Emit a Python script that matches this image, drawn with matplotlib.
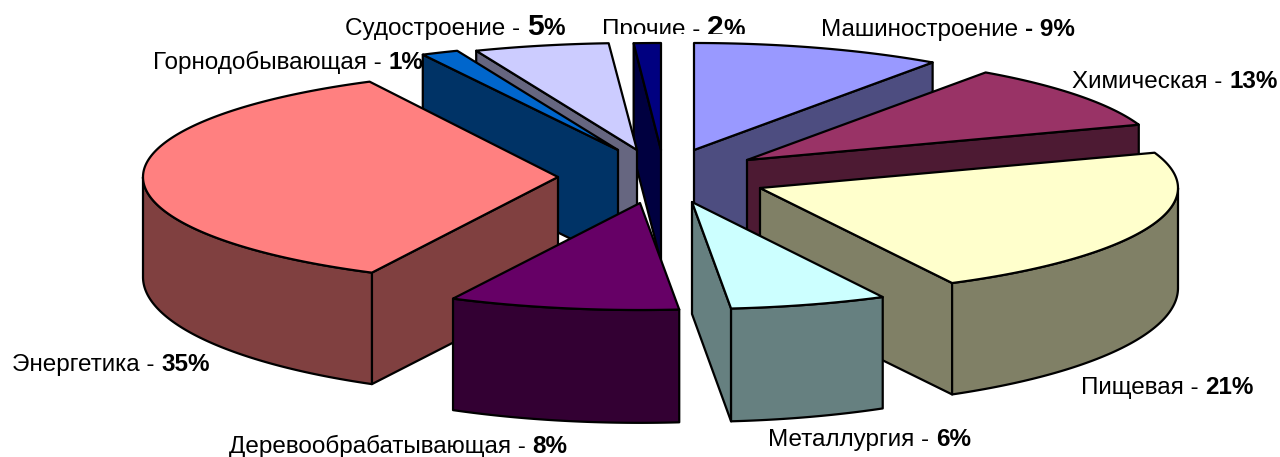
#!/usr/bin/env python3
# -*- coding: utf-8 -*-

import numpy as np

import matplotlib
matplotlib.use("Agg", force=True)
import matplotlib.pyplot as plt
from matplotlib.patches import Polygon, Rectangle
from matplotlib.colors import to_rgb

plt.rcParams["font.family"] = ["Liberation Sans", "DejaVu Sans"]

# Slices clockwise from 12 o'clock
names = ["Машиностроение", "Химическая", "Пищевая", "Металлургия", "Деревообрабатывающая",
         "Энергетика", "Горнодобывающая", "Судостроение", "Прочие"]
# shares as printed on the labels
labelled = [9, 13, 21, 6, 8, 35, 1, 5, 2]
# shares as actually drawn (read from the slice corners)
shares = [9.75, 9.9, 22.75, 6.1, 8.9, 35.1, 1.4, 5.05, 1.05]
colors = ["#9999FF", "#993366", "#FFFFCC", "#CCFFFF", "#660066",
          "#FF8080", "#0066CC", "#CCCCFF", "#000080"]

# exploded apex of each slice and its horizontal radius, pixels
apex_x = [694, 747, 760, 692, 640, 558, 618, 637, 661]
apex_y = [150, 160, 188, 202, 203, 177, 150, 150, 150]
radius_x = [415, 415, 418, 415, 417, 415, 430, 430, 415]

# left edge and baseline of each label, size of the bold number
label_x = [821, 1072, 1081, 768, 229, 12, 153, 345, 602]
label_y = [36, 88, 394, 446, 453, 371, 69, 35, 36]
big_digit = [None, None, None, None, None, None, None, 30, 30]

RY = 107
PX = 0.72  # px to pt at dpi 100
FS = 24.2 * PX


def side_color(c):
    return tuple(v * 0.5 for v in to_rgb(c))


def arc(i, t0, t1):
    t = np.radians(np.linspace(t0, t1, max(int(abs(t1 - t0)) * 2, 2)))
    x = apex_x[i] + radius_x[i] * np.sin(t)
    y = apex_y[i] - RY * np.cos(t)
    return x, y


def depth(dy):
    return 100 + 0.12 * np.abs(dy)


def add_face(ax, xs, ys, fc):
    ax.add_patch(Polygon(np.column_stack([xs, ys]), closed=True, facecolor=fc,
                         edgecolor="black", linewidth=1.6, joinstyle="round"))


def draw_slice(ax, i, t0, t1):
    dark = side_color(colors[i])
    ax_, ay_ = apex_x[i], apex_y[i]
    apex_d = 112
    # start cut face
    if np.sin(np.radians(t0)) < 0:
        x, y = arc(i, t0, t0)
        d = depth(y[0] - ay_)
        add_face(ax, [ax_, x[0], x[0], ax_], [ay_, y[0], y[0] + d, ay_ + apex_d], dark)
    # end cut face
    if np.sin(np.radians(t1)) > 1e-6:
        x, y = arc(i, t1, t1)
        d = depth(y[0] - ay_)
        add_face(ax, [ax_, x[0], x[0], ax_], [ay_, y[0], y[0] + d, ay_ + apex_d], dark)
    # outer wall, front half only
    a0, a1 = max(t0, 90), min(t1, 270)
    if a1 > a0:
        x, y = arc(i, a0, a1)
        d = depth(y - ay_)
        add_face(ax, np.r_[x, x[::-1]], np.r_[y, (y + d)[::-1]], dark)
    # top
    x, y = arc(i, t0, t1)
    add_face(ax, np.r_[ax_, x], np.r_[ay_, y], colors[i])


def draw_label(fig, ax, i):
    renderer = fig.canvas.get_renderer()
    x = label_x[i]
    y = label_y[i]
    if names[i] == "Машиностроение":
        parts = [(names[i] + " ", "normal", FS), ("- " + str(labelled[i]) + "%", "bold", FS)]
    elif big_digit[i] is not None:
        parts = [(names[i] + " - ", "normal", FS),
                 (str(labelled[i]), "bold", big_digit[i] * PX),
                 ("%", "bold", FS)]
    else:
        parts = [(names[i] + " - ", "normal", FS), (str(labelled[i]) + "%", "bold", FS)]
    for s, w, fs in parts:
        # trailing spaces are not measured, so use no-break spaces
        t = ax.text(x, y, s.replace(" ", "\u00a0"), fontweight=w, fontsize=fs, va="baseline", ha="left",
                    color="black", zorder=10)
        x += t.get_window_extent(renderer).width


def main() -> int:
    fig = plt.figure(figsize=(12.8, 4.57), dpi=100)
    ax = fig.add_axes([0, 0, 1, 1])
    ax.set_xlim(0, 1280)
    ax.set_ylim(457, 0)
    ax.axis("off")

    edges = np.r_[0, np.cumsum(shares)] * 3.6
    for i in [8, 7, 6, 5, 0, 1, 2, 3, 4]:
        draw_slice(ax, i, edges[i], edges[i + 1])

    for i in range(len(names)):
        draw_label(fig, ax, i)

    # the top label row is cut off just above the pie in the source picture
    ax.add_patch(Rectangle((600, 34), 150, 7, facecolor="white", edgecolor="none", zorder=11))

    fig.savefig("out.png", dpi=100)
    plt.close(fig)
    return 0


if __name__ == "__main__":
    raise SystemExit(main())
